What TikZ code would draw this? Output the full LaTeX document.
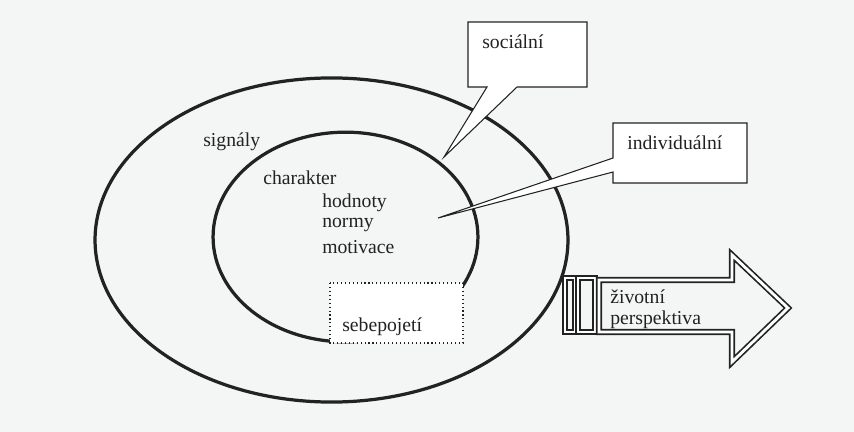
\documentclass[tikz,border=0pt]{standalone}
\usepackage{fontspec}
\setmainfont{Liberation Serif}
\usetikzlibrary{positioning}
\definecolor{paper}{HTML}{F4F6F5}
\definecolor{ink}{HTML}{222222}

\tikzset{
    ring/.style={draw=ink, line width=2.3pt},
    lbl/.style={font=\fontsize{14}{16}\selectfont, text=ink, inner sep=0pt, anchor=west},
    bubble/.style={draw=ink, fill=white, line width=0.75pt, line join=miter},
    twin/.style={draw=ink, double=white, double distance=2pt, line width=1.2pt, line join=miter},
}

\begin{document}
\begin{tikzpicture}[x=0.025cm, y=-0.025cm]
    % page
    \fill[paper] (0,0) rectangle (854,432);
    \useasboundingbox (0,0) rectangle (854,432);

    % the two rings
    \coordinate (outerc) at (331.5,240);
    \coordinate (innerc) at (345.5,237);
    \draw[ring] (outerc) ellipse [x radius=5.91cm, y radius=4.05cm];
    \draw[ring] (innerc) ellipse [x radius=3.31cm, y radius=2.62cm];

    % callouts
    \draw[bubble] (468,22) -- (587,22) -- (587,87) -- (517,87) -- (444,157)
        -- (487,87) -- (468,87) -- cycle;
    \draw[bubble] (613,123) -- (747,123) -- (747,183) -- (613,183) -- (613,172)
        -- (438,218) -- (613,158) -- cycle;

    % self concept box
    \draw[ink, dotted, line width=0.8pt, fill=white] (330,283) rectangle (463,343);

    % life perspective arrow
    \draw[twin] (565,278) rectangle (575,332);
    \draw[twin] (578,278) rectangle (595,332);
    \draw[twin] (599,280) -- (732,280) -- (732,255) -- (788,308) -- (732,362)
        -- (732,332) -- (599,332) -- cycle;

    % labels
    \node[lbl] (signaly) at (203,142) {signály};
    \node[lbl] (charakter) at (263,178) {charakter};
    \node[lbl] (hodnoty) at (322,203) {hodnoty};
    \node[lbl] (normy) at (322,225) {normy};
    \node[lbl] (motivace) at (322,247) {motivace};
    \node[lbl] (socialni) at (482,42) {sociální};
    \node[lbl] (individualni) at (627,143) {individuální};
    \node[lbl] (sebepojeti) at (342,327) {sebepojetí};
    \node[lbl] (zivotni) at (610,297) {životní};
    \node[lbl] (perspektiva) at (610,320) {perspektiva};
\end{tikzpicture}
\end{document}
